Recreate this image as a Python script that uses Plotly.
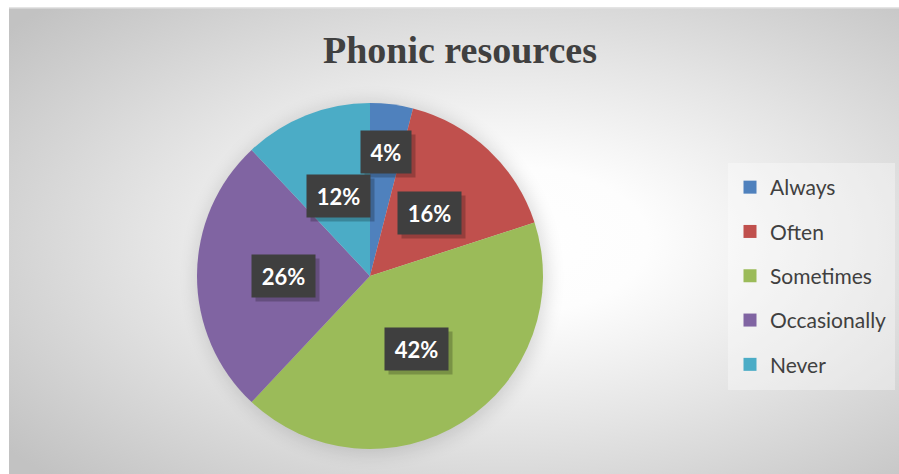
import base64
import math
import plotly.graph_objects as go

# Survey answers for how often phonic resources are used
categories = ["Always", "Often", "Sometimes", "Occasionally", "Never"]
shares = [4, 16, 42, 26, 12]
colors = ["#4F81BD", "#C0504D", "#9BBB59", "#8064A2", "#4BACC6"]
label_radius = [0.72, 0.5, 0.5, 0.5, 0.5]  # label distance as fraction of the pie radius

W, H = 899, 474
FRAME = (9, 7, 899, 474)          # chart area in pixels (x0, y0, x1, y1)
CX, CY, R = 370, 276, 173         # pie centre and radius in pixels


def px(x):
    return x / W


def py(y):
    return 1 - y / H


# Background: soft radial gradient plus a faint shadow under the pie
fw, fh = FRAME[2] - FRAME[0], FRAME[3] - FRAME[1]
svg = f"""<svg xmlns="http://www.w3.org/2000/svg" width="{fw}" height="{fh}" viewBox="0 0 {fw} {fh}" preserveAspectRatio="none">
<defs>
<radialGradient id="g" cx="0.56" cy="0.5" r="0.72">
<stop offset="0" stop-color="#ffffff"/>
<stop offset="0.22" stop-color="#fdfdfd"/>
<stop offset="0.55" stop-color="#e5e5e5"/>
<stop offset="1" stop-color="#c2c2c2"/>
</radialGradient>
<filter id="b" x="-30%" y="-30%" width="160%" height="160%"><feGaussianBlur stdDeviation="9"/></filter>
</defs>
<rect x="0" y="0" width="{fw}" height="{fh}" fill="url(#g)"/>
<rect x="0" y="0" width="{fw}" height="1.5" fill="#e4e4e4"/>
<circle cx="{CX - FRAME[0] + 2}" cy="{CY - FRAME[1] + 2}" r="{R + 3}" fill="#000" opacity="0.13" filter="url(#b)"/>
</svg>"""
bg_src = "data:image/svg+xml;base64," + base64.b64encode(svg.encode()).decode()

fig = go.Figure()

fig.add_trace(go.Pie(
    labels=categories,
    values=shares,
    sort=False,
    direction="clockwise",
    rotation=0,
    marker=dict(colors=colors, line=dict(width=0)),
    textinfo="none",
    hoverinfo="label+percent",
    showlegend=False,
    domain=dict(x=[px(CX - R), px(CX + R)], y=[py(CY + R), py(CY - R)]),
))

# Legend entries, one group per category so the rows can be spaced out
for name, col in zip(categories, colors):
    fig.add_trace(go.Scatter(
        x=[None], y=[None], mode="markers", name=name, legendgroup=name,
        marker=dict(symbol="square", size=13, color=col),
        hoverinfo="skip",
    ))

# Percentage labels in dark boxes, placed at each slice's mid-angle
annotations = []
total = sum(shares)
cum = 0
for v, k in zip(shares, label_radius):
    mid = (cum + v / 2) / total * 2 * math.pi
    cum += v
    x = CX + R * k * math.sin(mid)
    y = CY - R * k * math.cos(mid)
    text = f"{round(v / total * 100)}%"
    bw = 40 if len(text) == 2 else 53
    common = dict(xref="paper", yref="paper", x=px(x), y=py(y),
                  xanchor="center", yanchor="middle", showarrow=False,
                  width=bw, height=32, borderpad=5)
    annotations.append(dict(common, text=" ", bgcolor="rgba(0,0,0,0.22)",
                            xshift=4, yshift=-4))
    annotations.append(dict(common, text=f"<b>{text}</b>", bgcolor="#3F3F3F",
                            font=dict(family="Lato", size=22, color="#FFFFFF")))

fig.update_layout(
    width=W, height=H,
    margin=dict(l=0, r=0, t=0, b=0),
    paper_bgcolor="#FFFFFF",
    plot_bgcolor="rgba(0,0,0,0)",
    xaxis=dict(visible=False),
    yaxis=dict(visible=False),
    title=dict(text="<b>Phonic resources</b>", x=px(460), xanchor="center",
               y=py(50), yanchor="middle",
               font=dict(family="Liberation Serif", size=38, color="#404040")),
    images=[dict(source=bg_src, xref="paper", yref="paper",
                 x=px(FRAME[0]), y=py(FRAME[1]), sizex=fw / W, sizey=fh / H,
                 xanchor="left", yanchor="top", sizing="stretch", layer="below")],
    shapes=[dict(type="rect", xref="paper", yref="paper",
                 x0=px(728), x1=px(895), y0=py(390), y1=py(163),
                 fillcolor="rgba(255,255,255,0.35)", line=dict(width=0), layer="below")],
    legend=dict(x=px(730), y=py(167), xanchor="left", yanchor="top",
                bgcolor="rgba(0,0,0,0)", tracegroupgap=14,
                font=dict(family="Lato", size=21, color="#404040")),
    annotations=annotations,
)

fig.write_html("out.html")
